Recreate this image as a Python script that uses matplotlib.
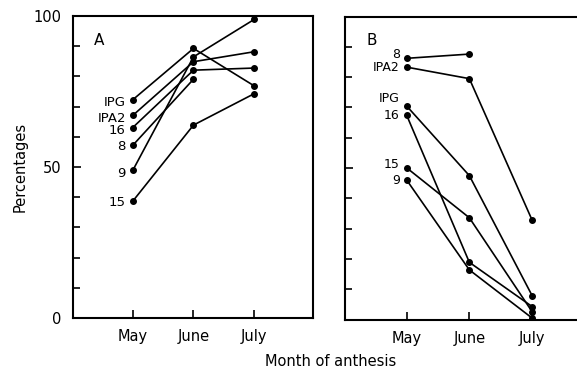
import matplotlib.pyplot as plt
import numpy as np

months = ['May', 'June', 'July']

# panel A: percentages per line (None = no point)
labels_a = ['IPG', 'IPA2', '16', '8', '9', '15']
ipg_a = [72.3, 89.3, 76.9]
ipa2_a = [67.1, 84.9, 88.2]
l16_a = [63.1, 82.1, 82.8]
l8_a = [57.2, 79.1, None]
l9_a = [48.9, 86.5, 98.9]
l15_a = [38.7, 63.9, 74.3]

# panel B
labels_b = ['8', 'IPA2', 'IPG', '16', '15', '9']
l8_b = [86.2, 87.6, None]
ipa2_b = [83.3, 79.5, 32.8]
ipg_b = [70.5, 47.5, 7.9]
l16_b = [67.5, 18.9, 4.3]
l15_b = [50.1, 33.6, 2.6]
l9_b = [46.1, 16.4, 0.5]

series_a = [ipg_a, ipa2_a, l16_a, l8_a, l9_a, l15_a]
series_b = [l8_b, ipa2_b, ipg_b, l16_b, l15_b, l9_b]

# label vertical offsets in points
offs_a = [-2, -2, -2, -1, -2, -1]
offs_b = [2.5, 0, 5, -0.5, 2.5, -0.5]

plt.rcParams['font.family'] = 'DejaVu Sans'
fig = plt.figure(figsize=(5.77, 3.75), dpi=100)
ax_a = fig.add_axes([0.126, 0.152, 0.4165, 0.805])
ax_b = fig.add_axes([0.598, 0.1477, 0.42, 0.8083])

x = np.arange(len(months))


def draw(ax, series, labels, offs, xlim, tag, fs):
    for s, lab, off in zip(series, labels, offs):
        xs = [xi for xi, v in zip(x, s) if v is not None]
        ys = [v for v in s if v is not None]
        ax.plot(xs, ys, color='black', lw=1.2, marker='o', ms=4)
        ax.annotate(lab, (xs[0], ys[0]), xytext=(-5, off), textcoords='offset points',
                    ha='right', va='center', fontsize=fs)
    ax.set_xlim(*xlim)
    ax.set_ylim(0, 100)
    ax.set_xticks(x)
    ax.set_xticklabels(months, fontsize=10.5)
    ax.set_yticks([0, 50, 100])
    ax.set_yticks(np.arange(10, 100, 10), minor=True)
    ax.tick_params(axis='both', which='major', direction='in', length=6, width=1.2, pad=8)
    ax.tick_params(axis='y', which='minor', direction='in', length=5, width=1.2)
    for sp in ax.spines.values():
        sp.set_linewidth(1.5)
    ax.text(0.09, 0.945, tag, transform=ax.transAxes, fontsize=11, va='top', ha='left')


draw(ax_a, series_a, labels_a, offs_a, (-0.99, 2.97), 'A', 9.5)
draw(ax_b, series_b, labels_b, offs_b, (-0.98, 2.88), 'B', 9)

ax_a.set_yticklabels(['0', '50', '100'], fontsize=10.5)
ax_a.set_ylabel('Percentages', fontsize=10.5, labelpad=4)
ax_b.set_yticklabels([])
ax_b.spines['right'].set_visible(False)
fig.text(0.573, 0.035, 'Month of anthesis', ha='center', va='center', fontsize=10.5)

fig.savefig('out.png', dpi=100)
